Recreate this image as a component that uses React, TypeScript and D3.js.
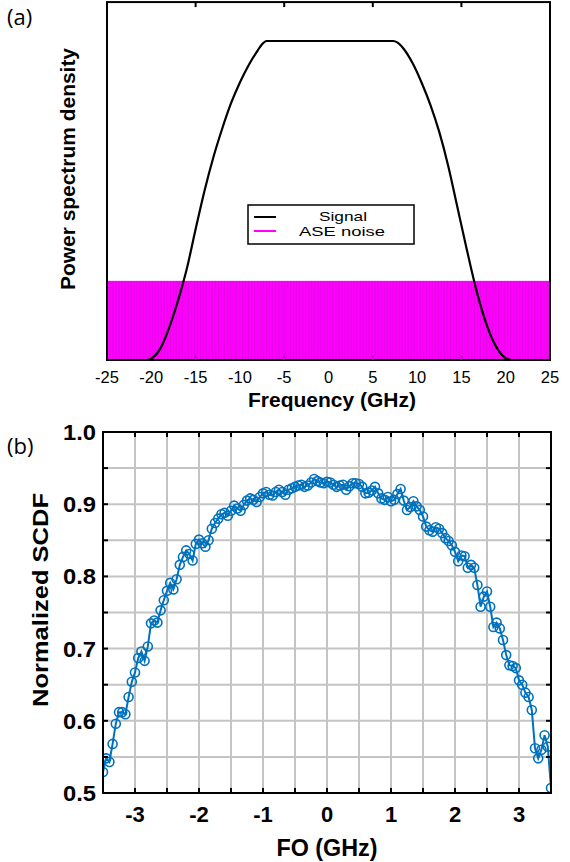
import React from "react";
import * as d3 from "d3";

// ---------- Panel (a): power spectrum density ----------
const psdFreq = [-25, -20.5, -19.8, -19, -18, -17, -16, -15, -14, -13, -12, -11, -10, -9, -8, -7.5, -7, 7.3, 7.8, 8.5, 9.5, 10.5, 11.5, 12.5, 13.5, 14.5, 15.5, 16.5, 17.5, 18.5, 19.5, 20.1, 20.7, 25];
const psdSignal = [0, 0, 0.008, 0.035, 0.1, 0.185, 0.285, 0.41, 0.53, 0.635, 0.725, 0.805, 0.87, 0.925, 0.97, 0.99, 1.0, 1.0, 0.995, 0.975, 0.93, 0.87, 0.8, 0.715, 0.61, 0.485, 0.36, 0.24, 0.14, 0.065, 0.018, 0.004, 0, 0];
const aseLevel = 0.248;
const psdTickLabels = [-25, -20, -15, -10, -5, 0, 5, 10, 15, 20, 25];
const psdTickMarks = [-15, -5, 5, 15];
const legendLabels = ["Signal", "ASE noise"];
const legendColors = ["#000000", "#ff00ff"];

// ---------- Panel (b): normalized SCDF vs FO ----------
const foStart = -3.5;
const foStep = 0.05;
const scdf = [
  0.529, 0.548, 0.543, 0.568, 0.596, 0.612, 0.612, 0.609, 0.633, 0.654,
  0.667, 0.687, 0.696, 0.683, 0.703, 0.735, 0.739, 0.736, 0.753, 0.767,
  0.780, 0.791, 0.782, 0.796, 0.816, 0.827, 0.836, 0.831, 0.822, 0.845,
  0.851, 0.846, 0.841, 0.850, 0.866, 0.874, 0.880, 0.886, 0.888, 0.884,
  0.891, 0.898, 0.894, 0.891, 0.899, 0.905, 0.908, 0.906, 0.903, 0.910,
  0.915, 0.917, 0.913, 0.912, 0.917, 0.920, 0.917, 0.913, 0.920, 0.922,
  0.924, 0.926, 0.927, 0.924, 0.926, 0.930, 0.935, 0.932, 0.930, 0.929,
  0.931, 0.930, 0.927, 0.924, 0.926, 0.927, 0.920, 0.925, 0.929, 0.929,
  0.928, 0.924, 0.915, 0.916, 0.919, 0.924, 0.915, 0.908, 0.906, 0.910,
  0.904, 0.906, 0.914, 0.921, 0.905, 0.892, 0.896, 0.904, 0.897, 0.892,
  0.883, 0.869, 0.864, 0.862, 0.868, 0.866, 0.860, 0.853, 0.849, 0.843,
  0.834, 0.821, 0.829, 0.828, 0.812, 0.816, 0.812, 0.788, 0.758, 0.772,
  0.779, 0.758, 0.730, 0.736, 0.728, 0.712, 0.691, 0.677, 0.676, 0.673,
  0.656, 0.650, 0.639, 0.633, 0.615, 0.562, 0.548, 0.560, 0.580, 0.564,
  0.507,
];
const foTickLabels = [-3, -2, -1, 0, 1, 2, 3];
const scdfTickLabels = [0.5, 0.6, 0.7, 0.8, 0.9, 1.0];

const FONT = "'Liberation Sans', Arial, Helvetica, sans-serif";
const BLUE = "#0072BD";

export default function App() {
  // scales panel (a)
  const xA = d3.scaleLinear().domain([-25, 25]).range([107, 550]);
  const yA = d3.scaleLinear().domain([0, 1]).range([360, 41]);
  const topA = yA(1.122);
  const signalLine = d3
    .line<number>()
    .x((_, i) => xA(psdFreq[i]))
    .y((d) => yA(d))
    .curve(d3.curveMonotoneX);
  const aseStripes = d3.range(-25, 25, 0.34);

  // scales panel (b)
  const xB = d3.scaleLinear().domain([-3.5, 3.5]).range([103, 551]);
  const yB = d3.scaleLinear().domain([0.5, 1.0]).range([793, 432]);
  const fo = scdf.map((_, i) => foStart + i * foStep);
  const scdfLine = d3
    .line<number>()
    .x((_, i) => xB(fo[i]))
    .y((d) => yB(d));
  const gridX = d3.range(-3, 3.0001, 0.5);
  const gridY = d3.range(0.55, 0.9501, 0.05);
  const tickLen = 5;

  return (
    <svg
      width={570}
      height={862}
      style={{ position: "absolute", left: 0, top: 0, background: "#fff" }}
      fontFamily={FONT}
    >
      <defs>
        <clipPath id="clipB">
          <rect x={xB(-3.5)} y={yB(1)} width={xB(3.5) - xB(-3.5)} height={yB(0.5) - yB(1)} />
        </clipPath>
        <clipPath id="clipA">
          <rect x={xA(-25)} y={topA} width={xA(25) - xA(-25)} height={yA(0) - topA} />
        </clipPath>
      </defs>

      {/* ---------------- Panel (a) ---------------- */}
      <text x={7} y={25} fontSize={22} fontFamily="'Open Sans', sans-serif">(a)</text>
      <rect x={xA(-25)} y={topA} width={xA(25) - xA(-25)} height={yA(0) - topA} fill="#fff" />
      <rect
        x={xA(-25)}
        y={yA(aseLevel)}
        width={xA(25) - xA(-25)}
        height={yA(0) - yA(aseLevel)}
        fill="#ff00ff"
      />
      <g clipPath="url(#clipA)">
        {aseStripes.map((f, i) => (
          <line
            key={i}
            x1={xA(f)}
            x2={xA(f)}
            y1={yA(aseLevel)}
            y2={yA(0)}
            stroke="#d010d0"
            strokeWidth={1}
            opacity={0.6}
          />
        ))}
      </g>
      <path d={signalLine(psdSignal) || ""} fill="none" stroke="#000" strokeWidth={2.2} clipPath="url(#clipA)" />
      {/* frame */}
      <rect
        x={xA(-25)}
        y={topA}
        width={xA(25) - xA(-25)}
        height={yA(0) - topA}
        fill="none"
        stroke="#000"
        strokeWidth={2}
      />
      {psdTickMarks.map((t) => (
        <g key={t}>
          <line x1={xA(t)} x2={xA(t)} y1={topA} y2={topA + 5} stroke="#000" strokeWidth={2} />
          <line x1={xA(t)} x2={xA(t)} y1={yA(0)} y2={yA(0) - 5} stroke="#c000c0" strokeWidth={2} />
        </g>
      ))}
      {psdTickLabels.map((t) => (
        <text key={t} x={xA(t)} y={383} fontSize={16.5} textAnchor="middle" fill="#000">
          {t}
        </text>
      ))}
      <text x={332} y={407} fontSize={20} fontWeight="bold" textAnchor="middle" textLength={168} lengthAdjust="spacingAndGlyphs">
        Frequency (GHz)
      </text>
      <text
        transform={`translate(75,169) rotate(-90)`}
        fontSize={20}
        fontWeight="bold"
        textAnchor="middle"
        textLength={242}
        lengthAdjust="spacingAndGlyphs"
      >
        Power spectrum density
      </text>
      {/* legend */}
      <rect x={248} y={205} width={166} height={39} fill="#fff" stroke="#000" strokeWidth={1.5} />
      {legendLabels.map((lab, i) => (
        <g key={lab}>
          <line x1={254} x2={276} y1={217 + i * 14} y2={217 + i * 14} stroke={legendColors[i]} strokeWidth={2} />
          <text
            x={i === 0 ? 343 : 342}
            y={221 + i * 15}
            fontSize={13}
            textAnchor="middle"
            textLength={i === 0 ? 48 : 86}
            lengthAdjust="spacingAndGlyphs"
          >
            {lab}
          </text>
        </g>
      ))}

      {/* ---------------- Panel (b) ---------------- */}
      <text x={7} y={454} fontSize={22} fontFamily="'Open Sans', sans-serif">(b)</text>
      {/* grid */}
      {gridX.map((g) => (
        <line key={"gx" + g} x1={xB(g)} x2={xB(g)} y1={yB(1)} y2={yB(0.5)} stroke="#c4c4c4" strokeWidth={2} />
      ))}
      {gridY.map((g) => (
        <line key={"gy" + g} x1={xB(-3.5)} x2={xB(3.5)} y1={yB(g)} y2={yB(g)} stroke="#c4c4c4" strokeWidth={2} />
      ))}
      <g clipPath="url(#clipB)">
        <path d={scdfLine(scdf) || ""} fill="none" stroke={BLUE} strokeWidth={2} />
        {scdf.map((v, i) => (
          <circle key={i} cx={xB(fo[i])} cy={yB(v)} r={4.5} fill="none" stroke={BLUE} strokeWidth={1.6} />
        ))}
      </g>
      {/* ticks */}
      {gridX.map((g) => (
        <g key={"tx" + g}>
          <line x1={xB(g)} x2={xB(g)} y1={yB(0.5)} y2={yB(0.5) - tickLen} stroke="#000" strokeWidth={2} />
          <line x1={xB(g)} x2={xB(g)} y1={yB(1)} y2={yB(1) + tickLen} stroke="#000" strokeWidth={2} />
        </g>
      ))}
      {gridY.map((g) => (
        <g key={"ty" + g}>
          <line x1={xB(-3.5)} x2={xB(-3.5) + tickLen} y1={yB(g)} y2={yB(g)} stroke="#000" strokeWidth={2} />
          <line x1={xB(3.5)} x2={xB(3.5) - tickLen} y1={yB(g)} y2={yB(g)} stroke="#000" strokeWidth={2} />
        </g>
      ))}
      <rect
        x={xB(-3.5)}
        y={yB(1)}
        width={xB(3.5) - xB(-3.5)}
        height={yB(0.5) - yB(1)}
        fill="none"
        stroke="#000"
        strokeWidth={2}
      />
      {scdfTickLabels.map((t) => (
        <text key={t} x={96} y={yB(t) + 8} fontSize={22} fontWeight="bold" textAnchor="end" textLength={33} lengthAdjust="spacingAndGlyphs">
          {t.toFixed(1)}
        </text>
      ))}
      {foTickLabels.map((t) => (
        <text key={t} x={xB(t)} y={822} fontSize={22} fontWeight="bold" textAnchor="middle">
          {t}
        </text>
      ))}
      <text x={327} y={856} fontSize={23} fontWeight="bold" textAnchor="middle" textLength={101} lengthAdjust="spacingAndGlyphs">
        FO (GHz)
      </text>
      <text
        transform={`translate(48,600) rotate(-90)`}
        fontSize={22}
        fontWeight="bold"
        textAnchor="middle"
        textLength={214}
        lengthAdjust="spacingAndGlyphs"
      >
        Normalized SCDF
      </text>
    </svg>
  );
}
